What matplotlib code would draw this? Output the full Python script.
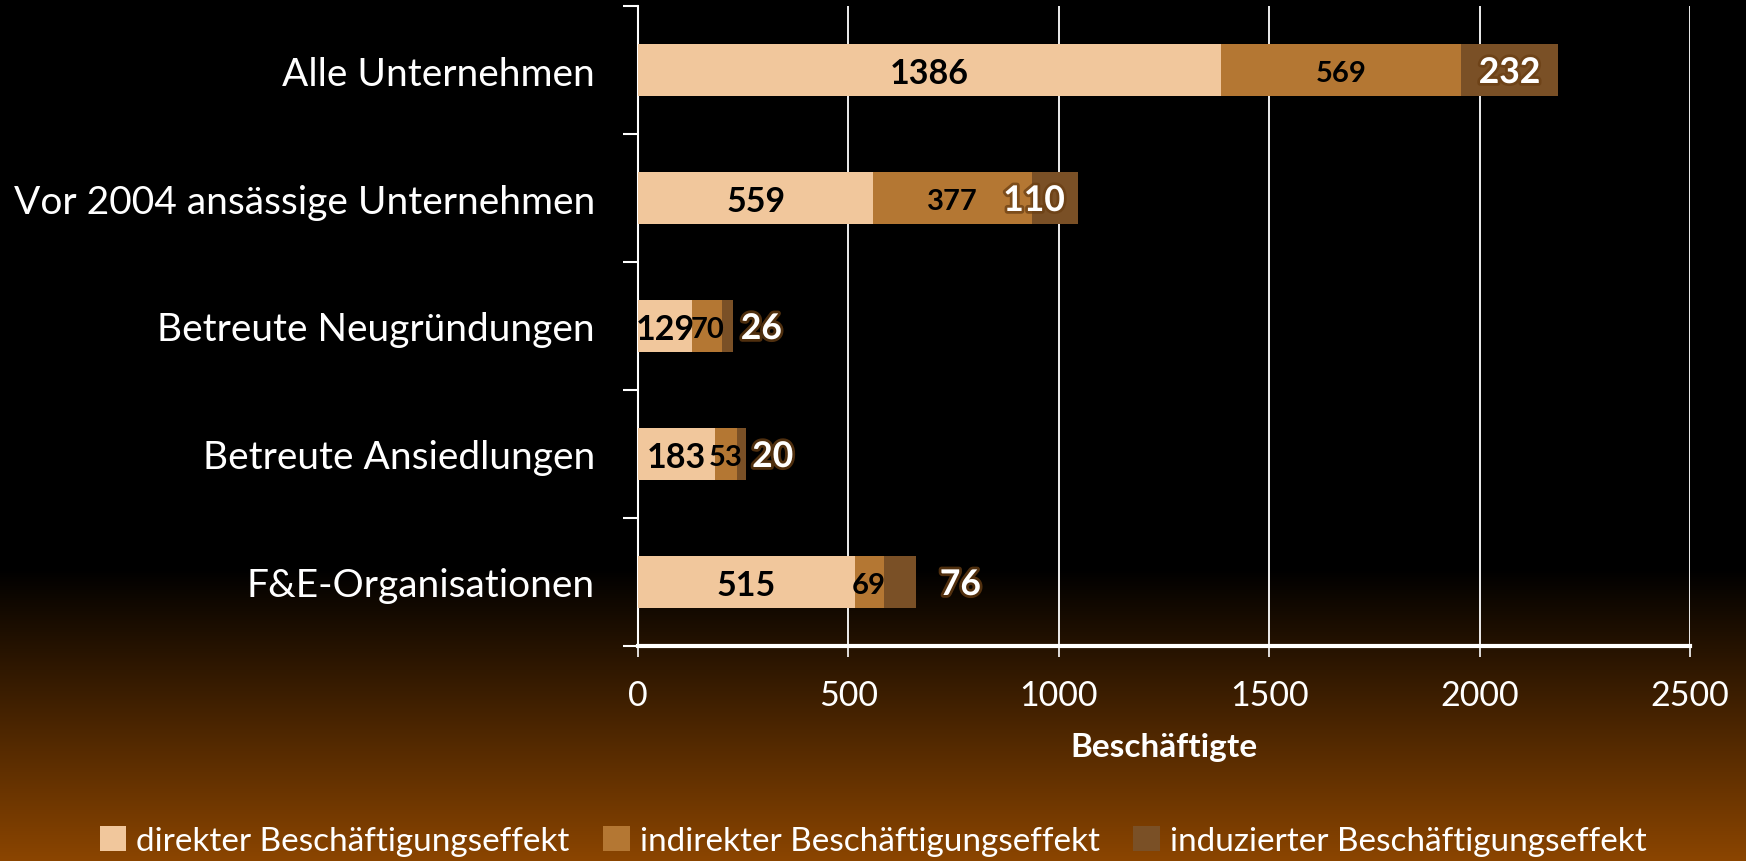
import numpy as np
import matplotlib
matplotlib.use("Agg")
import matplotlib.pyplot as plt
import matplotlib.patheffects as pe
from matplotlib.patches import Patch

plt.rcParams['font.family'] = ['Lato', 'DejaVu Sans']

categories = ["Alle Unternehmen", "Vor 2004 ansässige Unternehmen",
              "Betreute Neugründungen", "Betreute Ansiedlungen",
              "F&E-Organisationen"]
direkt = [1386, 559, 129, 183, 515]
indirekt = [569, 377, 70, 53, 69]
induziert = [232, 110, 26, 20, 76]
# horizontal offset of the induced-effect labels from segment centre (data units)
induziert_label_shift = [0, -50, 81, 74, 144]
series_names = ["direkter Beschäftigungseffekt", "indirekter Beschäftigungseffekt",
                "induzierter Beschäftigungseffekt"]
xticks = [0, 500, 1000, 1500, 2000, 2500]
xlabel = "Beschäftigte"

colors = ["#F1C79C", "#B47733", "#7A5026"]

W, H = 1746, 862
fig = plt.figure(figsize=(W / 100, H / 100), dpi=100)
fig.patch.set_facecolor("black")

# background gradient
bg = fig.add_axes([0, 0, 1, 1], zorder=-10)
rows = np.linspace(0, 1, H)
start = 570 / H
t = np.clip((rows - start) / (1 - start), 0, 1)
bottom_rgb = np.array([139, 69, 0]) / 255.0
img = t[:, None, None] * bottom_rgb[None, None, :] * np.ones((1, 2, 1))
bg.imshow(img, aspect="auto", extent=[0, 1, 0, 1], origin="upper")
bg.set_axis_off()

ax = fig.add_axes([638 / W, 1 - 647 / H, (1690 - 638) / W, (647 - 7) / H])
ax.set_facecolor("none")

y = np.arange(len(categories))
d = np.array(direkt)
i = np.array(indirekt)
u = np.array(induziert)
bh = 0.4
ax.barh(y, d, height=bh, color=colors[0], zorder=3)
ax.barh(y, i, left=d, height=bh, color=colors[1], zorder=3)
ax.barh(y, u, left=d + i, height=bh, color=colors[2], zorder=3)

ax.set_ylim(len(categories) - 0.5, -0.5)
ax.set_xlim(0, 2500)
ax.set_xticks(xticks)
ax.set_xticklabels([str(v) for v in xticks])
ax.set_yticks(y)
ax.set_yticklabels(categories)
ax.set_yticks(np.arange(-0.5, len(categories) + 0.5, 1), minor=True)

ax.tick_params(axis="y", which="major", length=0, pad=43 * 0.72, labelsize=28, labelcolor="white")
ax.tick_params(axis="y", which="minor", length=11, width=1.5, color="white", direction="out")
ax.tick_params(axis="x", which="major", length=8, width=1.2, color="white", direction="out",
               pad=16, labelsize=24.5, labelcolor="white")

ax.grid(axis="x", color="white", linewidth=1.3, zorder=0)
ax.set_axisbelow(True)
for s in ["top", "right"]:
    ax.spines[s].set_visible(False)
ax.spines["left"].set_color("white")
ax.spines["left"].set_linewidth(1.5)
ax.spines["bottom"].set_color("white")
ax.spines["bottom"].set_linewidth(3)

ax.set_xlabel(xlabel, color="white", fontsize=24, fontweight="bold", labelpad=15)

glow = [pe.withStroke(linewidth=4, foreground="#6b3f14", alpha=0.75)]
for k in range(len(categories)):
    ax.text(d[k] / 2, y[k], str(d[k]), ha="center", va="center_baseline",
            fontsize=24.5, fontweight="bold", color="black", zorder=5)
    ax.text(d[k] + i[k] / 2, y[k], str(i[k]), ha="center", va="center_baseline",
            fontsize=21, fontweight="bold", color="black", zorder=5)
    ax.text(d[k] + i[k] + u[k] / 2 + induziert_label_shift[k], y[k], str(u[k]),
            ha="center", va="center_baseline", fontsize=25.5, fontweight="bold",
            color="white", zorder=6, path_effects=glow)

handles = [Patch(facecolor=c, edgecolor="none") for c in colors]
leg = fig.legend(handles, series_names, loc="center", bbox_to_anchor=(0.5, 1 - 842 / H),
                 ncol=3, frameon=False, fontsize=24, labelcolor="white",
                 handlelength=0.8, handleheight=0.8, handletextpad=0.3,
                 columnspacing=1.0)

fig.savefig("out.png", dpi=100, facecolor=fig.get_facecolor())
